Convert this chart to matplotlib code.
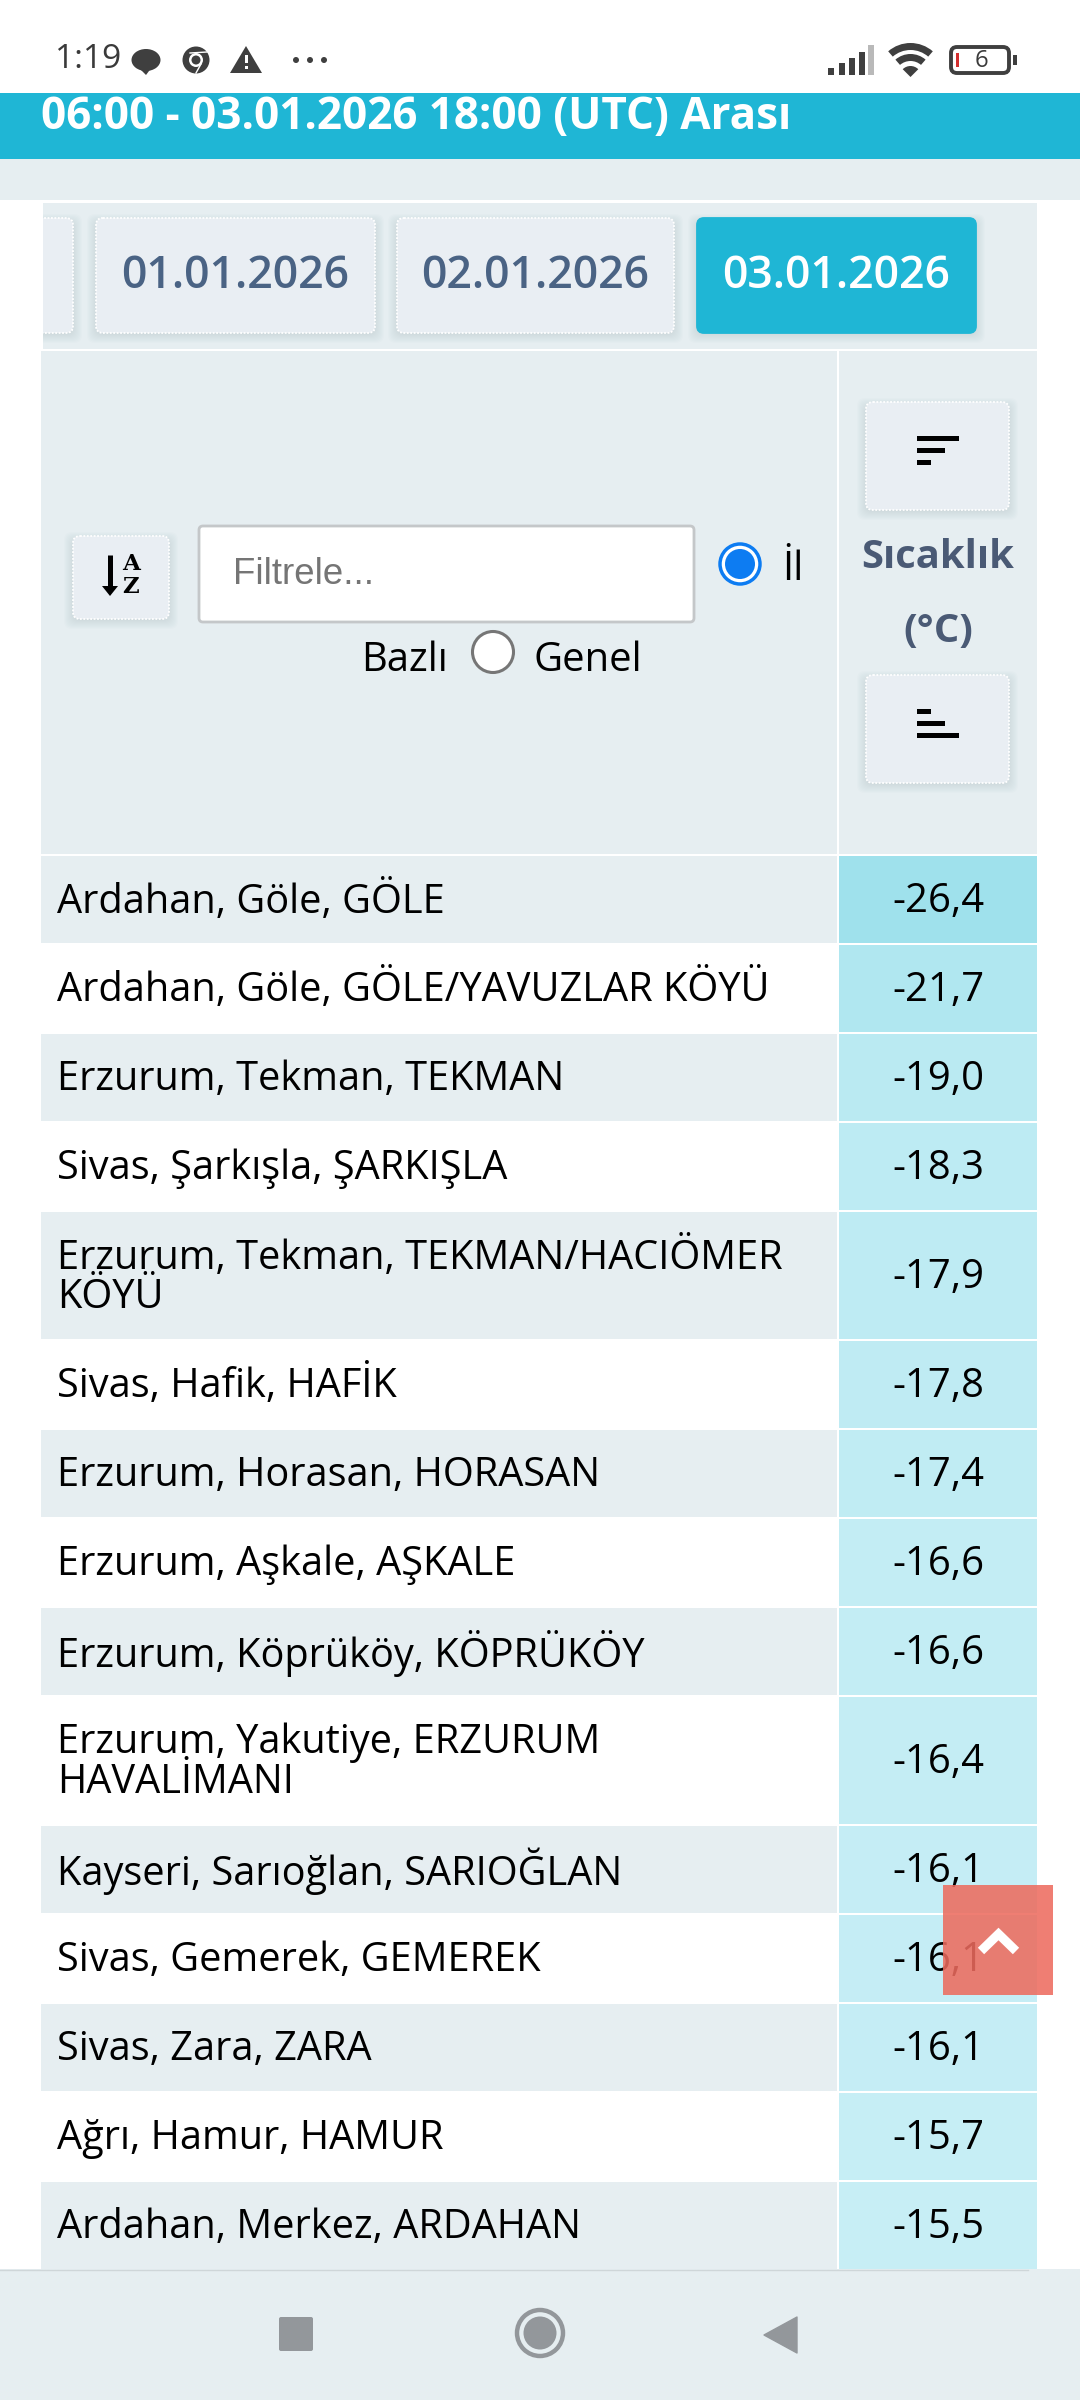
import matplotlib
matplotlib.use("Agg")
import matplotlib.pyplot as plt
from matplotlib.patches import Rectangle, FancyBboxPatch, Circle, Polygon, Wedge, Ellipse
from matplotlib.colors import LinearSegmentedColormap, Normalize

stations = ["Ardahan, Göle, GÖLE", "Ardahan, Göle, GÖLE/YAVUZLAR KÖYÜ", "Erzurum, Tekman, TEKMAN",
            "Sivas, Şarkışla, ŞARKIŞLA", "Erzurum, Tekman, TEKMAN/HACIÖMER\nKÖYÜ", "Sivas, Hafik, HAFİK",
            "Erzurum, Horasan, HORASAN", "Erzurum, Aşkale, AŞKALE", "Erzurum, Köprüköy, KÖPRÜKÖY",
            "Erzurum, Yakutiye, ERZURUM\nHAVALİMANI", "Kayseri, Sarıoğlan, SARIOĞLAN", "Sivas, Gemerek, GEMEREK",
            "Sivas, Zara, ZARA", "Ağrı, Hamur, HAMUR", "Ardahan, Merkez, ARDAHAN"]
temps = [-26.4, -21.7, -19.0, -18.3, -17.9, -17.8, -17.4, -16.6, -16.6, -16.4, -16.1, -16.1, -16.1, -15.7, -15.5]
dates = ["01.01.2026", "02.01.2026", "03.01.2026"]
banner = "06:00 - 03.01.2026 18:00 (UTC) Arası"

GRAY = "#e6eef1"; CYAN = "#1fb6d5"; SLATE = "#4a6384"; HEAD = "#4a5a75"; ICON = "#3f3f3f"
plt.rcParams['font.family'] = ['Open Sans', 'DejaVu Sans']
fig = plt.figure(figsize=(10.8, 24), dpi=100, facecolor="white")
ax = fig.add_axes([0, 0, 1, 1]); ax.set_xlim(0, 1080); ax.set_ylim(2400, 0); ax.axis("off")

def rect(x0, y0, x1, y1, c, z=1, **k):
    ax.add_patch(Rectangle((x0, y0), x1 - x0, y1 - y0, fc=c, ec="none", zorder=z, **k))
def button(x0, y0, x1, y1, fc, dotted=True, z=3):
    w, h = x1 - x0, y1 - y0
    for i in range(10, 0, -1):
        ax.add_patch(FancyBboxPatch((x0 - i + 1, y0 - i + 6), w + 2*i - 2, h + 2*i - 6, boxstyle="round,pad=0,rounding_size=8",
                                    fc="#8a9bb0", ec="none", alpha=0.022, zorder=z))
    ax.add_patch(FancyBboxPatch((x0, y0), w, h, boxstyle="round,pad=0,rounding_size=7", fc=fc,
                                ec="white" if dotted else fc, lw=1.3, ls=(0, (1, 0.9)) if dotted else "-", zorder=z + 1))
def txt(x, y, s, size, c="black", ha="left", weight="normal", z=6, **k):
    return ax.text(x, y, s, fontsize=size * 0.72, color=c, ha=ha, va="center", fontweight=weight, zorder=z, **k)

# status bar
txt(55, 60, "1:19", 33.5, "#3a3a3a")
ax.add_patch(Ellipse((146, 60), 29, 22, fc=ICON, ec="none"))
ax.add_patch(Polygon([(138, 67), (152, 67), (146, 75)], fc=ICON, ec="none"))
ax.add_patch(Circle((196, 60), 13.5, fc=ICON, ec="none"))
ax.add_patch(Circle((196, 60), 7, fc="white", ec="none", zorder=2))
ax.add_patch(Circle((196, 60), 4.5, fc=ICON, ec="none", zorder=3))
ax.plot([190, 207], [53, 52], color="white", lw=1, zorder=2)
ax.plot([201, 196], [64, 73], color="white", lw=1, zorder=2)
ax.add_patch(Polygon([(246, 46), (230, 73), (262, 73)], fc=ICON, ec="none"))
rect(244.5, 55, 247.5, 63, "white", 2); rect(244.5, 66, 247.5, 69, "white", 2)
for x in (296, 310, 324):
    ax.add_patch(Circle((x, 60), 3, fc=ICON, ec="none"))
for x, top, c in zip((831, 842, 852, 862, 871), (68, 63, 58, 52, 45), (ICON, ICON, ICON, ICON, "#b9b9b9")):
    rect(x - 3, top, x + 3, 75, c)
for r, lw in ((34, 7), (23, 7)):
    ax.add_patch(Wedge((910.5, 77), r, 229, 311, width=lw, fc=ICON, ec="none"))
ax.add_patch(Wedge((910.5, 77), 11, 225, 315, fc=ICON, ec="none"))
ax.add_patch(FancyBboxPatch((951, 47), 58, 26, boxstyle="round,pad=0,rounding_size=6", fc="white", ec=ICON, lw=2.8))
rect(955.5, 53, 958.5, 67, "#d32f2f", 3)
rect(1013, 55, 1017, 65, ICON)
txt(981, 61, "6", 24, "#3a3a3a", ha="center")

# banner
rect(0, 93, 1080, 159, CYAN)
txt(41, 117, banner, 44, "white", weight="bold")
rect(0, 159, 1080, 200, GRAY)

# date tabs
rect(43, 203, 1037, 349, GRAY)
button(20, 218, 73, 333, "#e9eef3")
rect(0, 203, 43, 349, "white", 5)
xs = [(96, 375), (397, 674), (697, 976)]
for d, (a, b) in zip(dates, xs):
    sel = d == dates[-1]
    button(a, 218, b, 333, CYAN if sel else "#e9eef3", dotted=not sel)
    txt((a + b) / 2, 277, d, 44.6, "white" if sel else SLATE, ha="center", weight="semibold")

# header
rect(41, 351, 837, 854, GRAY); rect(839, 351, 1037, 854, GRAY)
button(73, 536, 169, 619, "#e9eef3")
ax.plot([110, 110], [555, 590], color="black", lw=3.6, zorder=6, solid_capstyle="butt")
ax.add_patch(Polygon([(102, 586), (118, 586), (110, 596)], fc="black", ec="none", zorder=6))
txt(131, 564, "A", 23, "black", ha="center", weight="bold", family="DejaVu Serif")
txt(131, 587, "Z", 23, "black", ha="center", weight="bold", family="DejaVu Serif")
ax.add_patch(FancyBboxPatch((199, 526), 495, 96, boxstyle="round,pad=0,rounding_size=4", fc="white", ec="#c4c7c9", lw=2, zorder=3))
txt(233, 574, "Filtrele...", 36.6, "#757575", family="Liberation Sans")
ax.add_patch(Circle((740, 564), 20, fc="white", ec="#0d7cf2", lw=2.5, zorder=4))
ax.add_patch(Circle((740, 564), 15, fc="#0d7cf2", ec="none", zorder=5))
txt(782, 570, "İl", 40, "black")
txt(361, 661, "Bazlı", 40, "black")
ax.add_patch(Circle((493, 652), 20.5, fc="white", ec="#767676", lw=2.2, zorder=4))
txt(534, 661, "Genel", 40, "black")
txt(938, 558, "Sıcaklık", 40, HEAD, ha="center", weight="bold")
txt(938, 631, "(°C)", 40, HEAD, ha="center", weight="bold")
button(866, 402, 1009, 510, "#e9eef3")
button(866, 675, 1009, 783, "#e9eef3")
for y, w in zip((438, 450, 462), (42, 28, 14)):
    rect(917, y - 2.5, 917 + w, y + 2.5, "black", 6)
for y, w in zip((711, 723, 735), (14, 28, 42)):
    rect(917, y - 2.5, 917 + w, y + 2.5, "black", 6)

# table rows
cmap = LinearSegmentedColormap.from_list("t", ["#9fe1ec", "#c7eef5"])
norm = Normalize(-26.4, -15.5)
y = 856
for i, (s, t) in enumerate(zip(stations, temps)):
    h = 127 if "\n" in s else 87
    if i % 2 == 0:
        rect(41, y, 837, y + h, GRAY)
    rect(839, y, 1037, y + h, cmap(norm(t)))
    lines = s.split("\n")
    if len(lines) == 1:
        txt(57, y + h / 2 + 2, s, 39.7, "black")
    else:
        txt(57, y + h / 2 - 18, lines[0], 39.7, "black")
        txt(57, y + h / 2 + 22, lines[1], 39.7, "black")
    txt(938, y + h / 2 + 2, f"{t:.1f}".replace(".", ","), 40, "black", ha="center")
    y += h + 2

# scroll-to-top button
rect(943, 1885, 1053, 1995, (0.93, 0.42, 0.37), 8, alpha=0.87)
ax.plot([981, 998.5, 1016], [1951, 1934, 1951], color="white", lw=6.5, solid_joinstyle="miter", solid_capstyle="butt", zorder=9)

# navigation bar
rect(0, 2269, 1080, 2400, GRAY, 7)
ax.plot([0, 1028], [2269.5, 2269.5], color="#cfd6d9", lw=1, zorder=7.5)
ax.add_patch(FancyBboxPatch((279, 2317), 34, 34, boxstyle="round,pad=0,rounding_size=2", fc="#93979b", ec="none", zorder=8))
ax.add_patch(Circle((540, 2333), 23, fc="none", ec="#93979b", lw=3.2, zorder=8))
ax.add_patch(Circle((540, 2333), 16.5, fc="#93979b", ec="none", zorder=8))
ax.add_patch(Polygon([(764, 2335), (797, 2317), (797, 2353)], fc="#93979b", ec="#93979b", lw=1, joinstyle="round", zorder=8))

fig.savefig("out.png", dpi=100, facecolor="white")
